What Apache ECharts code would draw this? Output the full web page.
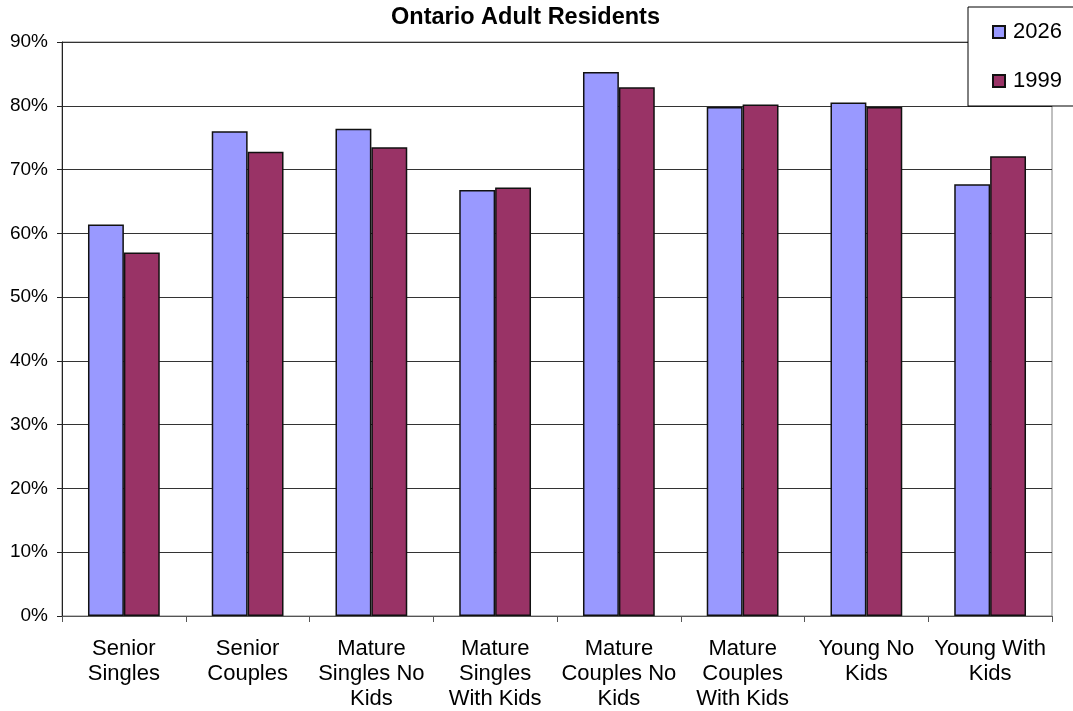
<!DOCTYPE html>
<html>
<head>
<meta charset="utf-8">
<script src="https://cdn.jsdelivr.net/npm/echarts@6/dist/echarts.min.js"></script>
<style>
  html, body { margin: 0; padding: 0; background: #fff; }
  #chart { width: 1073px; height: 711px; }
</style>
</head>
<body>
<div id="chart"></div>
<script>
// Household groups along the horizontal axis
const categories = [
  'Senior\nSingles',
  'Senior\nCouples',
  'Mature\nSingles No\nKids',
  'Mature\nSingles\nWith Kids',
  'Mature\nCouples No\nKids',
  'Mature\nCouples\nWith Kids',
  'Young No\nKids',
  'Young With\nKids'
];

// Share of adult residents, in percent
const values2026 = [61.4, 76.0, 76.4, 66.8, 85.3, 79.8, 80.5, 67.7];
const values1999 = [57.0, 72.8, 73.5, 67.2, 82.9, 80.2, 79.8, 72.1];

const seriesNames = ['2026', '1999'];
const titleText = 'Ontario Adult Residents';

const FONT = '"Liberation Sans", Arial, sans-serif';

const chart = echarts.init(document.getElementById('chart'), null, { renderer: 'canvas' });

chart.setOption({
  backgroundColor: '#ffffff',
  animation: false,
  textStyle: { fontFamily: FONT },
  title: {
    text: titleText,
    left: 386,
    top: 1,
    textStyle: { fontFamily: FONT, fontSize: 23.5, fontWeight: 'bold', color: '#000' }
  },
  legend: {
    orient: 'vertical',
    left: 968,
    top: 7,
    padding: [14, 30, 14, 24],
    itemGap: 27,
    itemWidth: 12,
    itemHeight: 12,
    icon: 'rect',
    borderColor: '#000',
    borderWidth: 1,
    backgroundColor: '#fff',
    data: seriesNames,
    textStyle: { fontFamily: FONT, fontSize: 22, color: '#000', padding: [0, 0, 0, 3] }
  },
  grid: {
    left: 62,
    right: 21,
    top: 42,
    bottom: 95,
    show: true,
    borderColor: '#808080',
    borderWidth: 1,
    containLabel: false
  },
  xAxis: {
    type: 'category',
    data: categories,
    boundaryGap: true,
    axisLine: { lineStyle: { color: '#555', width: 1 } },
    axisTick: { show: true, length: 6, alignWithLabel: false, lineStyle: { color: '#555' } },
    axisLabel: {
      interval: 0,
      margin: 20,
      fontFamily: FONT,
      fontSize: 22,
      lineHeight: 25,
      color: '#000'
    }
  },
  yAxis: {
    type: 'value',
    min: 0,
    max: 90,
    interval: 10,
    axisLine: { show: true, lineStyle: { color: '#222', width: 1 } },
    axisTick: { show: true, length: 5, lineStyle: { color: '#222' } },
    splitLine: { show: true, lineStyle: { color: '#333', width: 1 } },
    axisLabel: {
      margin: 14,
      fontFamily: FONT,
      fontSize: 19,
      color: '#000',
      formatter: '{value}%'
    }
  },
  series: [
    {
      name: seriesNames[0],
      type: 'bar',
      data: values2026,
      barGap: '0%',
      barCategoryGap: '42%',
      itemStyle: { color: '#9999FF', borderColor: '#111', borderWidth: 1.5 }
    },
    {
      name: seriesNames[1],
      type: 'bar',
      data: values1999,
      barGap: '0%',
      barCategoryGap: '42%',
      itemStyle: { color: '#993366', borderColor: '#111', borderWidth: 1.5 }
    }
  ]
});
</script>
</body>
</html>
